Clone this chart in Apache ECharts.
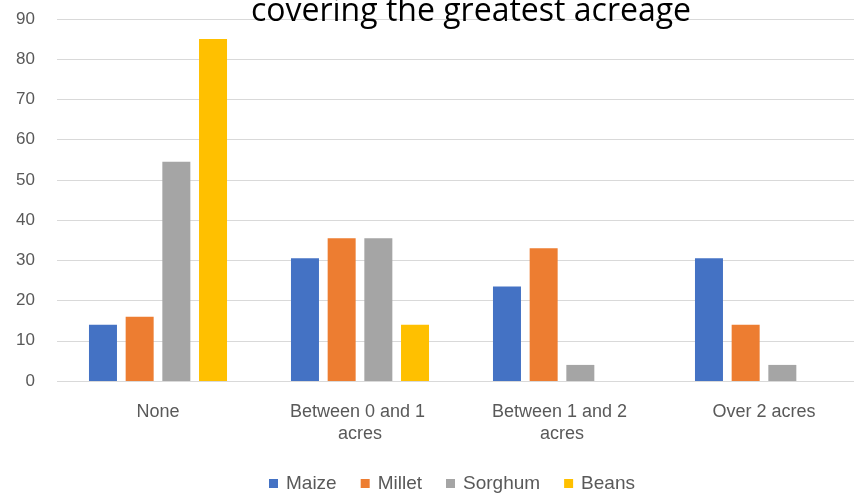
<!DOCTYPE html>
<html>
<head>
<meta charset="utf-8">
<script src="https://cdn.jsdelivr.net/npm/echarts@6/dist/echarts.min.js"></script>
<style>
  html, body { margin: 0; padding: 0; background: #ffffff; overflow: hidden; }
  #chart { width: 866px; height: 495px; }
</style>
</head>
<body>
<div id="chart"></div>
<script>
// Share of farmers by acreage under each crop
const categories = ['None', 'Between 0 and 1 acres', 'Between 1 and 2 acres', 'Over 2 acres'];
const maize   = [14, 30.5, 23.5, 30.5];
const millet  = [16, 35.5, 33, 14];
const sorghum = [54.5, 35.5, 4, 4];
const beans   = [85, 14, 0, 0];
const yTicks  = { min: 0, max: 90, step: 10 };

const seriesDefs = [
  { name: 'Maize',   data: maize,   color: '#4472C4' },
  { name: 'Millet',  data: millet,  color: '#ED7D31' },
  { name: 'Sorghum', data: sorghum, color: '#A5A5A5' },
  { name: 'Beans',   data: beans,   color: '#FFC000' }
];

const textColor = '#595959';
const font = 'Liberation Sans';

const chart = echarts.init(document.getElementById('chart'), null, { renderer: 'canvas' });
chart.setOption({
  animation: false,
  backgroundColor: '#ffffff',
  title: {
    text: 'covering the greatest acreage',
    left: 466,
    textAlign: 'center',
    top: -9,
    textStyle: { fontFamily: 'Open Sans', fontWeight: 'normal', fontSize: 32, color: '#000000' }
  },
  legend: {
    bottom: -3,
    left: 264,
    itemWidth: 9,
    itemHeight: 9,
    itemGap: 24,
    icon: 'rect',
    textStyle: { fontFamily: font, fontSize: 19, color: textColor, padding: [0, 0, 0, 3] }
  },
  grid: { left: 57, top: 19, right: 1, height: 362, containLabel: false },
  xAxis: {
    type: 'category',
    data: categories,
    axisLine: { show: false },
    axisTick: { show: false },
    axisLabel: {
      color: textColor, fontFamily: font, fontSize: 18, margin: 20, lineHeight: 22,
      width: 160, overflow: 'break', interval: 0
    }
  },
  yAxis: {
    type: 'value',
    min: yTicks.min, max: yTicks.max, interval: yTicks.step,
    axisLine: { show: false },
    axisTick: { show: false },
    splitLine: { lineStyle: { color: '#D9D9D9', width: 1 } },
    axisLabel: { color: textColor, fontFamily: font, fontSize: 17, margin: 22 }
  },
  series: seriesDefs.map(s => ({
    name: s.name,
    type: 'bar',
    data: s.data,
    barWidth: 28,
    barGap: '31%',
    itemStyle: { color: s.color }
  }))
});
</script>
</body>
</html>
